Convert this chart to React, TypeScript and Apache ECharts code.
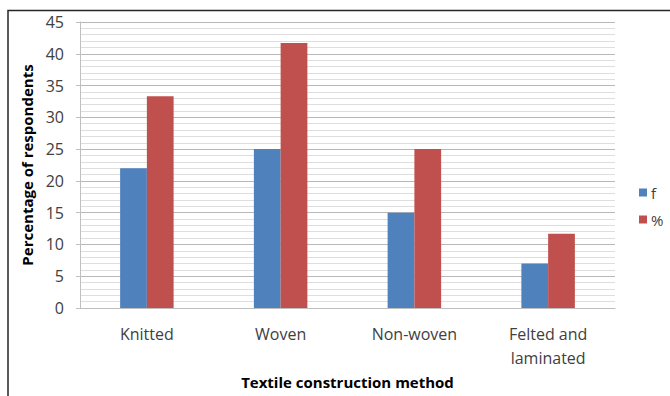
import React, { useEffect, useRef } from "react";
import * as echarts from "echarts";

// Textile construction methods reported by respondents
const categories = ["Knitted", "Woven", "Non-woven", "Felted and\nlaminated"];
const freqValues = [22, 25, 15, 7];
const pctValues = [33.3, 41.7, 25, 11.7];

const FONT = "'Open Sans', sans-serif";

export default function App() {
  const ref = useRef<HTMLDivElement>(null);

  useEffect(() => {
    if (!ref.current) return;
    const chart = echarts.init(ref.current, undefined, { renderer: "svg" });
    chart.setOption({
      animation: false,
      backgroundColor: "#ffffff",
      textStyle: { fontFamily: FONT },
      grid: { left: 80, right: 55, top: 22, bottom: 88 },
      legend: {
        orient: "vertical",
        left: 634,
        top: 180,
        itemWidth: 8,
        itemHeight: 8,
        itemGap: 12,
        icon: "rect",
        textStyle: { fontFamily: FONT, fontSize: 15, color: "#404040", padding: [0, 0, 0, -1] },
        data: ["f", "%"],
      },
      xAxis: {
        type: "category",
        data: categories,
        name: "Textile construction method",
        nameLocation: "middle",
        nameGap: 66,
        nameTextStyle: { fontFamily: FONT, fontSize: 15, fontWeight: "bold", color: "#000" },
        axisLine: { lineStyle: { color: "#bfbfbf", width: 1 } },
        axisTick: { show: false },
        axisLabel: {
          fontFamily: FONT,
          fontSize: 16,
          color: "#404040",
          margin: 14,
          lineHeight: 24,
          interval: 0,
        },
      },
      yAxis: {
        type: "value",
        min: 0,
        max: 45,
        interval: 5,
        name: "Percentage of respondents",
        nameLocation: "middle",
        nameGap: 42,
        nameTextStyle: { fontFamily: FONT, fontSize: 15, fontWeight: "bold", color: "#000" },
        axisLine: { show: true, lineStyle: { color: "#bfbfbf", width: 1 } },
        axisTick: { show: true, length: 4, lineStyle: { color: "#bfbfbf" } },
        axisLabel: { fontFamily: FONT, fontSize: 16, color: "#404040", margin: 16 },
        splitLine: { lineStyle: { color: "#b8b8b8", width: 1 } },
        minorTick: { show: false, splitNumber: 5 },
        minorSplitLine: { show: true, lineStyle: { color: "#dedede", width: 1 } },
      },
      series: [
        {
          name: "f",
          type: "bar",
          data: freqValues,
          barGap: "0%",
          barCategoryGap: "60%",
          itemStyle: { color: "#4f81bd" },
        },
        {
          name: "%",
          type: "bar",
          data: pctValues,
          itemStyle: { color: "#c0504d" },
        },
      ],
      graphic: [
        {
          type: "polyline",
          shape: { points: [[8, 396], [8, 10.5], [670, 10.5]] },
          style: { stroke: "#262626", lineWidth: 1.5, fill: "none" },
          silent: true,
        },
      ],
    });
    return () => chart.dispose();
  }, []);

  return (
    <div
      ref={ref}
      style={{ position: "fixed", left: 0, top: 0, width: 670, height: 396 }}
    />
  );
}
